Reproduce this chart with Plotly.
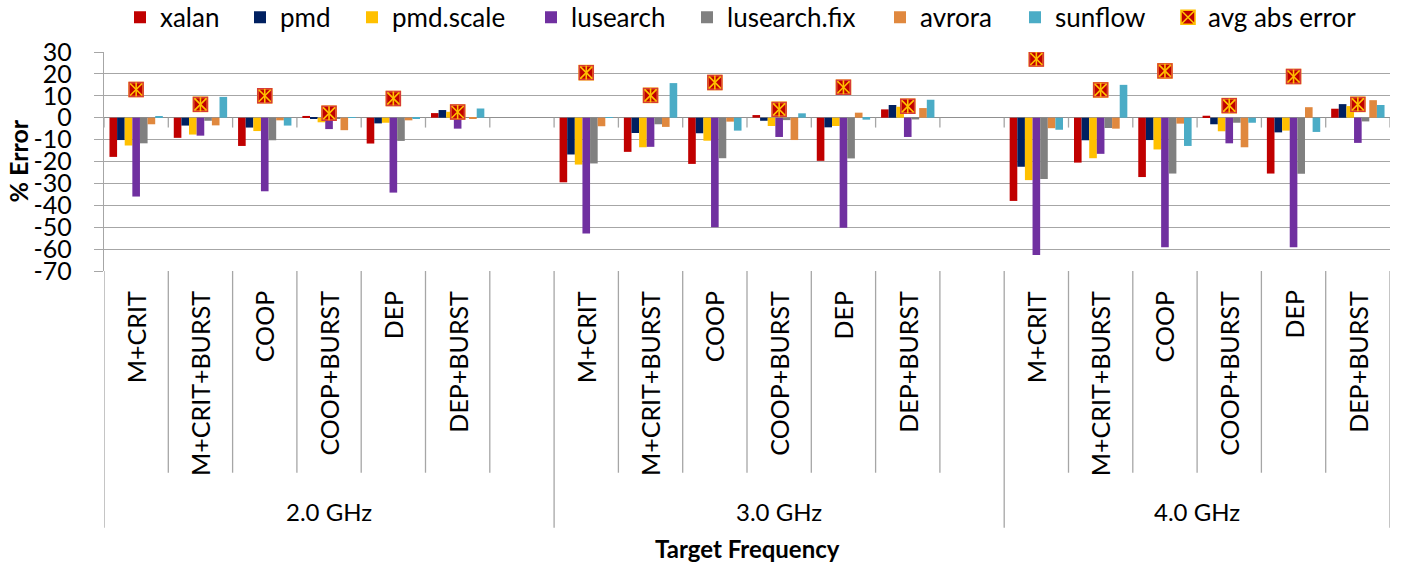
import plotly.graph_objects as go

configs = ["M+CRIT", "M+CRIT+BURST", "COOP", "COOP+BURST", "DEP", "DEP+BURST"]
freqs = ["2.0 GHz", "3.0 GHz", "4.0 GHz"]

xalan = [-17.9, -9.2, -12.9, 0.8, -11.8, 2.1, -29.5, -15.6, -21.1, 1.2, -19.7, 3.8, -38.0, -20.5, -27.1, 0.9, -25.5, 4.1]
pmd = [-10.2, -3.6, -4.5, -0.2, -2.6, 3.5, -16.8, -7.0, -7.1, -1.4, -4.4, 5.8, -22.4, -10.3, -10.2, -3.0, -6.7, 6.2]
pmd_scale = [-12.7, -7.7, -6.1, -2.1, -2.3, 2.7, -21.4, -13.5, -10.5, -3.8, -3.8, 5.0, -28.5, -18.5, -14.5, -6.2, -5.9, 5.3]
lusearch = [-36.0, -8.2, -33.6, -5.2, -34.2, -5.0, -52.9, -13.3, -50.0, -8.8, -50.2, -8.8, -62.7, -16.5, -59.2, -11.7, -59.2, -11.5]
lusearch_fix = [-11.7, -1.4, -10.3, -0.3, -10.6, 0.3, -20.9, -3.0, -18.5, -1.1, -18.6, -0.8, -28.0, -4.7, -25.5, -2.3, -25.6, -1.7]
avrora = [-3.0, -3.5, -1.2, -5.7, -1.2, -0.2, -3.9, -4.2, -1.8, -10.2, 2.3, 4.4, -4.8, -5.0, -2.7, -13.5, 4.8, 8.0]
sunflow = [0.6, 9.5, -3.6, 0.3, -0.3, 4.2, 0.2, 15.8, -5.9, 2.0, -0.9, 8.2, -5.5, 15.0, -12.9, -2.3, -6.5, 5.8]
avg_abs_error = [12.9, 6.1, 10.0, 2.0, 8.8, 2.6, 20.6, 10.2, 16.1, 3.8, 13.9, 5.2, 26.8, 12.7, 21.4, 5.5, 18.8, 6.1]

y_tick_vals = [30, 20, 10, 0, -10, -20, -30, -40, -50, -60, -70]
y_tick_labels = ["30", "20", "10", "0", "-10", "-20", "-30", "-40", "-50", "-60", "-70"]

series = [
    ("xalan", xalan, "#C00000"),
    ("pmd", pmd, "#002060"),
    ("pmd.scale", pmd_scale, "#FFC000"),
    ("lusearch", lusearch, "#7030A0"),
    ("lusearch.fix", lusearch_fix, "#808080"),
    ("avrora", avrora, "#E0883E"),
    ("sunflow", sunflow, "#4BACC6"),
]

FONT = "Lato"
LINE = "#A6A6A6"

W, H = 1401, 570
PLOT_L, PLOT_R, PLOT_T, PLOT_B = 104, 1390, 51.7, 271   # page pixels
L = PLOT_L
T = PLOT_T
R = W - PLOT_R
B = H - PLOT_B
PW = PLOT_R - PLOT_L
PH = PLOT_B - PLOT_T

def px_x(p):
    return (p - PLOT_L) / PW

def px_y(p):
    return (PLOT_B - p) / PH

slots = []
slot_label = []
slot_group = []
idx_map = []
for gi, f in enumerate(freqs):
    for c in configs:
        idx_map.append(len(slots))
        slots.append(f + "|" + c)
        slot_label.append(c)
        slot_group.append(gi)
    if gi < len(freqs) - 1:
        slots.append(f + "|gap")
        slot_label.append("")
        slot_group.append(gi)

def expand(vals):
    out = [None] * len(slots)
    for i, v in enumerate(vals):
        out[idx_map[i]] = v
    return out

legend_px = [136, 256, 368, 547, 703, 896, 1031, 1184]
legend_ids = ["legend"] + ["legend%d" % k for k in range(2, 9)]

fig = go.Figure()
for k, (name, vals, col) in enumerate(series):
    fig.add_trace(go.Bar(x=slots, y=expand(vals), name=name, legend=legend_ids[k],
                         marker=dict(color=col, line=dict(width=0))))

ax = [slots[i] for i in idx_map]
fig.add_trace(go.Scatter(x=ax, y=avg_abs_error, mode="markers", name="avg abs error", legend=legend_ids[7],
                         marker=dict(symbol="square-x", size=14, color="#C00000",
                                     line=dict(color="#FFC000", width=1.6))))
fig.add_trace(go.Scatter(x=ax, y=avg_abs_error, mode="markers", showlegend=False, hoverinfo="skip",
                         marker=dict(symbol="square-open", size=14, color="#D63A3A", line=dict(width=1.4))))
fig.add_trace(go.Scatter(x=ax, y=avg_abs_error, mode="markers", showlegend=False, hoverinfo="skip",
                         marker=dict(symbol="line-ns-open", size=10, color="#FFC000", line=dict(color="#FFC000", width=1.6))))

n = len(slots)
shapes = []
for i in range(n + 1):
    shapes.append(dict(type="line", xref="x", yref="y", x0=i - 0.5, x1=i - 0.5, y0=0, y1=-4.5,
                       line=dict(color=LINE, width=1.3)))
group_bounds = [-0.5]
for i in range(1, n):
    if slot_group[i] != slot_group[i - 1]:
        group_bounds.append(i - 0.5)
group_bounds.append(n - 0.5)
for i in range(1, n):
    b = i - 0.5
    if b in group_bounds:
        continue
    shapes.append(dict(type="line", xref="x", yref="paper", x0=b, x1=b, y0=0, y1=px_y(473),
                       line=dict(color=LINE, width=1.3)))
for b in group_bounds:
    shapes.append(dict(type="line", xref="x", yref="paper", x0=b, x1=b, y0=0, y1=px_y(528),
                       line=dict(color=LINE, width=1.3)))

annotations = []
for i, lab in enumerate(slot_label):
    if lab:
        annotations.append(dict(x=slots[i], y=px_y(289), xref="x", yref="paper", text=lab, textangle=-90,
                                showarrow=False, xanchor="center", yanchor="top",
                                font=dict(family=FONT, size=25, color="#000000")))
for gi, f in enumerate(freqs):
    annotations.append(dict(x=(group_bounds[gi] + group_bounds[gi + 1]) / 2, y=px_y(512), xref="x", yref="paper",
                            text=f, showarrow=False, xanchor="center", yanchor="middle",
                            font=dict(family=FONT, size=24, color="#000000")))
annotations.append(dict(x=0.5, y=px_y(549), xref="paper", yref="paper", text="<b>Target Frequency</b>",
                        showarrow=False, xanchor="center", yanchor="middle",
                        font=dict(family=FONT, size=24, color="#000000")))
annotations.append(dict(x=px_x(17), y=0.5, xref="paper", yref="paper", text="<b>% Error</b>", textangle=-90,
                        showarrow=False, xanchor="center", yanchor="middle",
                        font=dict(family=FONT, size=25, color="#000000")))

layout_legends = {}
for k, lid in enumerate(legend_ids):
    layout_legends[lid] = dict(orientation="h", x=px_x(legend_px[k] - 16), xanchor="left",
                               y=px_y(17), yanchor="middle", bgcolor="rgba(0,0,0,0)",
                               font=dict(family=FONT, size=26, color="#000000"))

fig.update_layout(
    width=W, height=H,
    margin=dict(l=L, r=R, t=T, b=B, autoexpand=False),
    paper_bgcolor="white", plot_bgcolor="white",
    barmode="group", bargap=0.17, bargroupgap=0,
    font=dict(family=FONT, color="#000000"),
    showlegend=True,
    shapes=shapes, annotations=annotations,
    **layout_legends,
)
fig.update_xaxes(type="category", categoryorder="array", categoryarray=slots, range=[-0.5, n - 0.5],
                 showticklabels=False, showgrid=False, zeroline=False, showline=False, ticks="",
                 automargin=False)
fig.update_yaxes(range=[-70, 30], tickmode="array", tickvals=y_tick_vals, ticktext=y_tick_labels,
                 showgrid=True, gridcolor=LINE, gridwidth=1.3,
                 showline=True, linecolor=LINE, linewidth=1.3, ticks="outside", ticklen=9, tickcolor=LINE,
                 tickwidth=1.3, zeroline=True, zerolinecolor="#909090", zerolinewidth=1.3,
                 tickfont=dict(family=FONT, size=25, color="#000000"), ticklabelstandoff=17,
                 automargin=False)

fig.write_html("out.html", config={"displayModeBar": False},
               post_script="document.body.style.margin='0';document.body.style.overflow='hidden';")
